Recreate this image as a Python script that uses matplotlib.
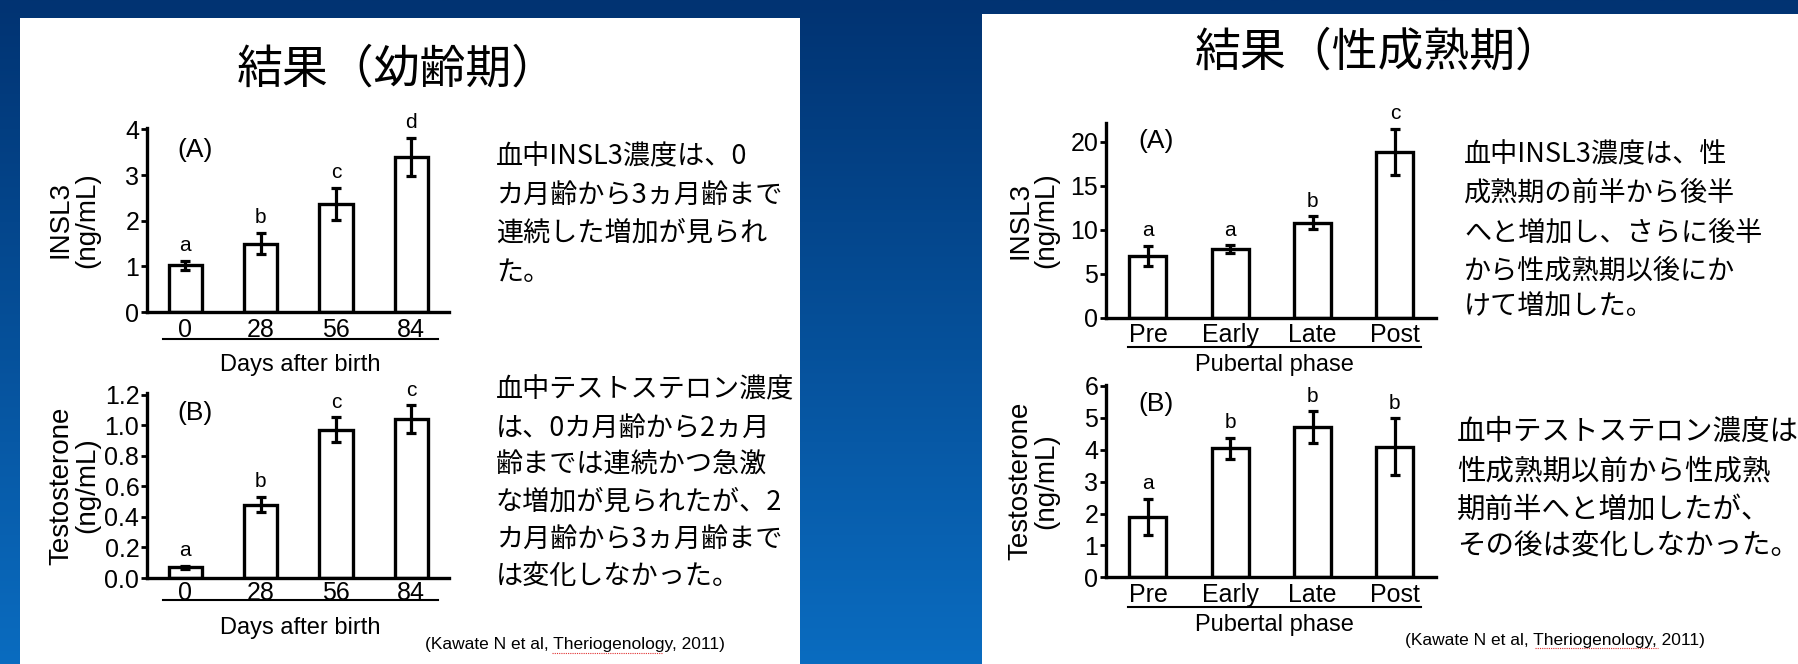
import numpy as np
import matplotlib
matplotlib.use('Agg')
import matplotlib.pyplot as plt
from matplotlib.patches import Rectangle
from matplotlib.lines import Line2D

plt.rcParams['font.family'] = ['Liberation Sans', 'DejaVu Sans']
JP = ['Noto Sans CJK JP', 'DejaVu Sans']

# data
days = ['0', '28', '56', '84']
insl3_young = [1.02, 1.5, 2.37, 3.39]
insl3_young_err = [0.1, 0.23, 0.35, 0.42]
insl3_young_sig = ['a', 'b', 'c', 'd']
testo_young = [0.07, 0.48, 0.97, 1.04]
testo_young_err = [0.01, 0.05, 0.08, 0.09]
testo_young_sig = ['a', 'b', 'c', 'c']

phases = ['Pre', 'Early', 'Late', 'Post']
insl3_pub = [7.0, 7.8, 10.8, 18.8]
insl3_pub_err = [1.15, 0.4, 0.7, 2.6]
insl3_pub_sig = ['a', 'a', 'b', 'c']
testo_pub = [1.9, 4.05, 4.7, 4.1]
testo_pub_err = [0.57, 0.33, 0.5, 0.88]
testo_pub_sig = ['a', 'b', 'b', 'b']

title_left = '結果（幼齢期）'
title_right = '結果（性成熟期）'
text_left_a = ['血中INSL3濃度は、0', 'カ月齢から3ヵ月齢まで', '連続した増加が見られ', 'た。']
text_left_b = ['血中テストステロン濃度', 'は、0カ月齢から2ヵ月', '齢までは連続かつ急激',
               'な増加が見られたが、2', 'カ月齢から3ヵ月齢まで', 'は変化しなかった。']
text_right_a = ['血中INSL3濃度は、性', '成熟期の前半から後半', 'へと増加し、さらに後半',
                'から性成熟期以後にか', 'けて増加した。']
text_right_b = ['血中テストステロン濃度は、', '性成熟期以前から性成熟', '期前半へと増加したが、',
                'その後は変化しなかった。']
citation = '(Kawate N et al, Theriogenology, 2011)'

W, H = 1799, 664
fig = plt.figure(figsize=(W / 100, H / 100), dpi=100)


def px(x, y):
    return x / W, 1 - y / H


# blue gradient background with the two white slide panels on it
bg = fig.add_axes([0, 0, 1, 1])
bg.set_axis_off()
top = np.array([0x01, 0x33, 0x72]) / 255
bot = np.array([0x0a, 0x6c, 0xc0]) / 255
t = np.linspace(0, 1, 256)[:, None]
grad = top[None, :] * (1 - t) + bot[None, :] * t
bg.imshow(grad[:, None, :], aspect='auto', extent=[0, 1, 0, 1])
bg.set_xlim(0, 1)
bg.set_ylim(0, 1)
bg.add_patch(Rectangle(px(20, 664), 780 / W, 646 / H, facecolor='white', edgecolor='none',
                       zorder=2))
bg.add_patch(Rectangle(px(982, 664), 817 / W, 650 / H, facecolor='white', edgecolor='none',
                       zorder=2))


def chart(rect, cats, vals, errs, sig, ylim, yticks, fmt, ylabel, tag, tagpos, xlabel,
          width, pad, line_y, xlab_y, line_x, ylab_x):
    ax = fig.add_axes(rect)
    ax.set_zorder(3)
    ax.set_facecolor('none')
    x = np.arange(len(cats))
    ax.bar(x, vals, width=width, color='white', edgecolor='black', linewidth=2.4, zorder=2)
    ax.errorbar(x, vals, yerr=errs, fmt='none', ecolor='black', elinewidth=2.3,
                capsize=3.5, capthick=2.3, zorder=3)
    for xi, v, e, s in zip(x, vals, errs, sig):
        ax.annotate(s, (xi, v + e), xytext=(0, 7), textcoords='offset points',
                    ha='center', va='baseline', fontsize=15)
    ax.set_xlim(-0.51, 3.5)
    ax.set_ylim(*ylim)
    ax.set_yticks(yticks)
    ax.set_yticklabels([fmt.format(v) for v in yticks])
    ax.set_xticks(x, cats)
    for sp in ['top', 'right']:
        ax.spines[sp].set_visible(False)
    for sp in ['left', 'bottom']:
        ax.spines[sp].set_linewidth(2.4)
    ax.tick_params(axis='y', direction='out', length=4, width=2, pad=1.5, labelsize=18)
    ax.tick_params(axis='x', length=0, pad=pad, labelsize=18)
    ax.text(ylab_x, 0.5, ylabel, transform=ax.transAxes, rotation=90, ha='center',
            va='center', fontsize=20, multialignment='center', linespacing=1.0)
    ax.text(tagpos[0], tagpos[1], tag, transform=ax.transAxes, ha='left', va='center',
            fontsize=19)
    ax.plot(line_x, [line_y, line_y], transform=ax.transAxes, color='black', lw=1.5,
            clip_on=False)
    ax.text(sum(line_x) / 2, xlab_y, xlabel, transform=ax.transAxes, ha='center',
            va='center', fontsize=17)
    return ax


chart([147 / W, 1 - 312 / H, 302 / W, 184 / H], days, insl3_young, insl3_young_err,
      insl3_young_sig, (0, 4.03), [0, 1, 2, 3, 4], '{:g}', 'INSL3\n(ng/mL)', '(A)',
      (0.1, 0.88), 'Days after birth', 0.44, 4, -0.147, -0.288, (0.053, 0.964), -0.242)
chart([147 / W, 1 - 578 / H, 302 / W, 185 / H], days, testo_young, testo_young_err,
      testo_young_sig, (0, 1.21), [0, 0.2, 0.4, 0.6, 0.8, 1.0, 1.2], '{:.1f}',
      'Testosterone\n(ng/mL)', '(B)', (0.1, 0.89), 'Days after birth', 0.44, 2,
      -0.118, -0.268, (0.053, 0.964), -0.242)
chart([1106 / W, 1 - 317.7 / H, 330 / W, 194.7 / H], phases, insl3_pub, insl3_pub_err,
      insl3_pub_sig, (0, 22.1), [0, 5, 10, 15, 20], '{:g}', 'INSL3\n(ng/mL)', '(A)',
      (0.097, 0.91), 'Pubertal phase', 0.45, 4, -0.149, -0.243, (0.067, 0.954), -0.219)
chart([1106 / W, 1 - 577.3 / H, 330 / W, 192.3 / H], phases, testo_pub, testo_pub_err,
      testo_pub_sig, (0, 6.03), [0, 1, 2, 3, 4, 5, 6], '{:g}', 'Testosterone\n(ng/mL)',
      '(B)', (0.097, 0.9), 'Pubertal phase', 0.45, 4, -0.153, -0.248, (0.067, 0.954),
      -0.219)

# titles
fig.text(*px(397, 69), title_left, family=JP, fontsize=33, ha='center', va='center')
fig.text(*px(1378, 52), title_right, family=JP, fontsize=33, ha='center', va='center')


def block(x, ys, lines, size):
    for y, line in zip(ys, lines):
        fig.text(*px(x, y), line, family=JP, fontsize=size, ha='left', va='center')


block(496, [157, 195, 233, 272], text_left_a, 19.5)
block(496, [390, 428, 465, 502, 539, 576], text_left_b, 19.5)
block(1464, [155, 193, 233, 271, 307], text_right_a, 19.5)
block(1457, [432, 471, 510, 547], text_right_b, 20.5)

# citations
fig.text(*px(425, 645), citation, family=['Liberation Sans', 'DejaVu Sans'], fontsize=12.5,
         ha='left', va='center')
fig.text(*px(1405, 640), citation, family=['Liberation Sans', 'DejaVu Sans'], fontsize=12.5,
         ha='left', va='center')
for x0, x1, y in [(552, 663, 653), (1535, 1658, 648)]:
    a, b = px(x0, y)
    c, _ = px(x1, y)
    fig.add_artist(Line2D([a, c], [b, b], color='#e03030', lw=0.8, ls=(0, (1, 1))))

fig.savefig('out.png', dpi=100)
